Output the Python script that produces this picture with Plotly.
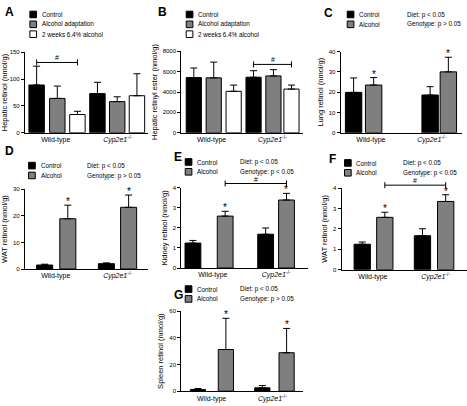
import plotly.graph_objects as go

W, H = 467, 406

# ---------------- data ----------------
categories = ["Wild-type", "<i>Cyp2e1</i><sup>-/-</sup>"]
legend_three = ["Control", "Alcohol adaptation", "2 weeks 6.4% alcohol"]
legend_two = ["Control", "Alcohol"]

# A: hepatic retinol (nmol/g)
A_control = [89, 73]
A_control_sem = [35, 21]
A_adapt = [64, 58]
A_adapt_sem = [23, 9]
A_2wk = [34, 69]
A_2wk_sem = [6, 41]
A_bracket = 131

# B: hepatic retinyl ester (nmol/g)
B_control = [5420, 5450]
B_control_sem = [935, 645]
B_adapt = [5390, 5580]
B_adapt_sem = [1545, 615]
B_2wk = [4070, 4290]
B_2wk_sem = [610, 390]
B_bracket = 6710

# C: lung retinol
C_control = [19.9, 18.6]
C_control_sem = [7.1, 4.1]
C_alcohol = [23.5, 30.0]
C_alcohol_sem = [3.7, 7.2]

# D: WAT retinol
D_control = [1.5, 2.0]
D_control_sem = [0.3, 0.3]
D_alcohol = [18.9, 23.2]
D_alcohol_sem = [5.1, 4.6]

# E: kidney retinol
E_control = [1.24, 1.68]
E_control_sem = [0.13, 0.31]
E_alcohol = [2.58, 3.38]
E_alcohol_sem = [0.24, 0.33]
E_bracket = 4.2

# F: WAT retinol
F_control = [1.25, 1.67]
F_control_sem = [0.11, 0.34]
F_alcohol = [2.57, 3.35]
F_alcohol_sem = [0.25, 0.33]
F_bracket = 4.15

# G: spleen retinol
G_control = [1.2, 2.5]
G_control_sem = [0.8, 1.7]
G_alcohol = [31.2, 28.8]
G_alcohol_sem = [23.4, 18.2]

stats_C = ["Diet: p < 0.05", "Genotype: p > 0.05"]
stats_D = ["Diet: p < 0.05", "Genotype: p > 0.05"]
stats_E = ["Diet: p < 0.05", "Genotype: p < 0.05"]
stats_F = ["Diet: p < 0.05", "Genotype: p < 0.05"]
stats_G = ["Diet: p < 0.05", "Genotype: p > 0.05"]

# ---------------- styling ----------------
FONT = "Liberation Sans, Arial, sans-serif"
colors = ["#000000", "#7f7f7f", "#ffffff"]

# bracket spec: (value, (series, category) start, (series, category) end)
panels = [
    dict(letter="A", box=(23, 147, 50, 131.7), yrange=150, dtick=50,
         ytitle="Hepatic retinol (nmol/g)",
         series=[(A_control, A_control_sem), (A_adapt, A_adapt_sem), (A_2wk, A_2wk_sem)],
         offsets=[[-0.435, -0.45], [-0.10, -0.13], [0.226, 0.19]], width=0.25,
         stars=[], bracket=(A_bracket, (0, 0), (2, 0)),
         legend=legend_three, leg=(28, 8.3), stats=None, letter_pos=(1, 0)),
    dict(letter="B", box=(180, 302, 49, 131.7), yrange=8000, dtick=2000,
         ytitle="Hepatic retinyl ester (nmol/g)",
         series=[(B_control, B_control_sem), (B_adapt, B_adapt_sem), (B_2wk, B_2wk_sem)],
         offsets=[[-0.418, -0.434], [-0.09, -0.107], [0.238, 0.19]], width=0.25,
         stars=[], bracket=(B_bracket, (0, 1), (2, 1)),
         legend=legend_three, leg=(185, 8.3), stats=None, letter_pos=(155, 0)),
    dict(letter="C", box=(340, 462, 49.3, 131.7), yrange=40, dtick=10,
         ytitle="Lung retinol (nmol/g)",
         series=[(C_control, C_control_sem), (C_alcohol, C_alcohol_sem)],
         offsets=[[-0.42, -0.16], [-0.09, 0.14]], width=0.27,
         stars=[(1, 0), (1, 1)], bracket=None,
         legend=legend_two, leg=(346.7, 8.3), stats=(stats_C, 404.5), letter_pos=(321, 1)),
    dict(letter="D", box=(23, 147, 189, 270), yrange=30, dtick=10,
         ytitle="WAT retinol (nmol/g)",
         series=[(D_control, D_control_sem), (D_alcohol, D_alcohol_sem)],
         offsets=[[-0.31, -0.31], [0.065, 0.05]], width=0.26,
         stars=[(1, 0), (1, 1)], bracket=None,
         legend=legend_two, leg=(26.7, 161.7), stats=(stats_D, 83), letter_pos=(1, 141)),
    dict(letter="E", box=(180, 307, 187.3, 269), yrange=4, dtick=1,
         ytitle="Kidney retinol (nmol/g)",
         series=[(E_control, E_control_sem), (E_alcohol, E_alcohol_sem)],
         offsets=[[-0.44, -0.29], [0.07, 0.04]], width=0.25,
         stars=[(1, 0), (1, 1)], bracket=(E_bracket, (1, 0), (1, 1)),
         legend=legend_two, leg=(184, 158), stats=(stats_E, 236.7), letter_pos=(171, 147)),
    dict(letter="F", box=(341, 467, 188, 270.7), yrange=4, dtick=1,
         ytitle="WAT retinol (nmol/g)",
         series=[(F_control, F_control_sem), (F_alcohol, F_alcohol_sem)],
         offsets=[[-0.30, -0.34], [0.06, 0.03]], width=0.26,
         stars=[(1, 0), (1, 1)], bracket=(F_bracket, (1, 0), (1, 1)),
         legend=legend_two, leg=(344, 159), stats=(stats_F, 401), letter_pos=(326.5, 149)),
    dict(letter="G", box=(180, 302, 312.7, 394), yrange=60, dtick=20,
         ytitle="Spleen retinol (nmol/g)",
         series=[(G_control, G_control_sem), (G_alcohol, G_alcohol_sem)],
         offsets=[[-0.35, -0.29], [0.11, 0.11]], width=0.25,
         stars=[(1, 0), (1, 1)], bracket=None,
         legend=legend_two, leg=(184, 287), stats=(stats_G, 237), letter_pos=(171, 287)),
]

fig = go.Figure()
shapes, annotations = [], []
xs = list(range(len(categories)))

def px(x):
    return x / W

def py(y):
    return 1 - y / H

for i, p in enumerate(panels, start=1):
    sfx = "" if i == 1 else str(i)
    xa, ya = "x" + sfx, "y" + sfx
    x0, x1, yt, yb = p["box"]
    w = p["width"]
    for k, (vals, sem) in enumerate(p["series"]):
        fig.add_trace(go.Bar(
            x=xs, y=vals, xaxis=xa, yaxis=ya,
            offset=p["offsets"][k], width=w,
            marker=dict(color=colors[k], line=dict(color="black", width=1)),
            error_y=dict(type="data", symmetric=False, array=sem,
                         arrayminus=[0] * len(sem), color="black",
                         thickness=1, width=3.5),
            showlegend=False, cliponaxis=False,
        ))
    fig.layout["xaxis" + sfx] = dict(
        domain=[px(x0), px(x1)], anchor=ya, range=[-0.5, 1.5],
        tickvals=xs, ticktext=categories, ticks="", showgrid=False,
        zeroline=False, showline=True, linecolor="black", linewidth=1,
        tickfont=dict(size=7, family=FONT, color="black"), fixedrange=True,
    )
    fig.layout["yaxis" + sfx] = dict(
        domain=[py(yb), py(yt)], anchor=xa, range=[0, p["yrange"]],
        dtick=p["dtick"], tick0=0, ticks="outside", ticklen=3, tickwidth=1,
        tickcolor="black", showgrid=False, zeroline=False, showline=True,
        linecolor="black", linewidth=1,
        tickfont=dict(size=6, family=FONT, color="black"),
        title=dict(text=p["ytitle"], font=dict(size=7.5, family=FONT, color="black"),
                   standoff=4),
        fixedrange=True,
    )
    # stars
    for (k, j) in p["stars"]:
        vals, sem = p["series"][k]
        annotations.append(dict(
            x=xs[j] + p["offsets"][k][j] + w / 2, y=vals[j] + sem[j],
            xref=xa, yref=ya, text="*", showarrow=False,
            yanchor="bottom", yshift=-4,
            font=dict(size=10, family=FONT, color="black")))
    # bracket
    if p["bracket"]:
        bval, (ka, ja), (kb, jb) = p["bracket"]
        xa_c = xs[ja] + p["offsets"][ka][ja] + w / 2
        xb_c = xs[jb] + p["offsets"][kb][jb] + w / 2
        yd = bval / p["yrange"]
        ydr = ya + " domain"
        shapes.append(dict(type="line", xref=xa, yref=ydr, x0=xa_c, x1=xb_c,
                           y0=yd, y1=yd, line=dict(color="black", width=1)))
        for xc in (xa_c, xb_c):
            shapes.append(dict(type="line", xref=xa, yref=ydr, ysizemode="pixel",
                               yanchor=yd, x0=xc, x1=xc, y0=-3, y1=3,
                               line=dict(color="black", width=1)))
        annotations.append(dict(x=(xa_c + xb_c) / 2, y=yd, xref=xa, yref=ydr,
                                text="#", showarrow=False, yanchor="bottom",
                                yshift=-1, font=dict(size=7, family=FONT, color="black")))
    # legend
    lx, ly = p["leg"]
    for k, lab in enumerate(p["legend"]):
        top = ly + k * 10
        shapes.append(dict(type="rect", xref="paper", yref="paper",
                           x0=px(lx), x1=px(lx + 6.7), y0=py(top + 6.7), y1=py(top),
                           fillcolor=colors[k], line=dict(color="black", width=1)))
        annotations.append(dict(x=px(lx + 10), y=py(top + 3.4), xref="paper", yref="paper",
                                text=lab, showarrow=False, xanchor="left", yanchor="middle",
                                font=dict(size=6.3, family=FONT, color="black")))
    if p["stats"]:
        texts, sx = p["stats"]
        for k, t in enumerate(texts):
            annotations.append(dict(x=px(sx), y=py(ly + k * 10 + 3.4), xref="paper",
                                    yref="paper", text=t, showarrow=False,
                                    xanchor="left", yanchor="middle",
                                    font=dict(size=6.3, family=FONT, color="black")))
    # letter
    lx2, ly2 = p["letter_pos"]
    annotations.append(dict(x=px(lx2), y=py(ly2), xref="paper", yref="paper",
                            text="<b>%s</b>" % p["letter"], showarrow=False,
                            xanchor="left", yanchor="top",
                            font=dict(size=12, family=FONT, color="black")))

fig.update_layout(
    width=W, height=H, margin=dict(l=0, r=0, t=0, b=0),
    paper_bgcolor="white", plot_bgcolor="white",
    barmode="overlay", shapes=shapes, annotations=annotations,
    font=dict(family=FONT, color="black"),
)
fig.write_html("out.html", config={"displayModeBar": False},
               post_script="document.body.style.margin='0';document.body.style.overflow='hidden';")
